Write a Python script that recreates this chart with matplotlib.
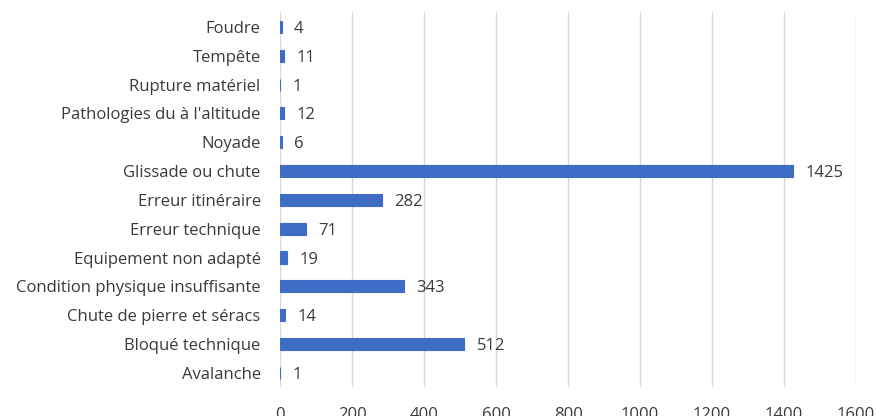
import matplotlib
matplotlib.use('Agg')
import matplotlib.pyplot as plt

# données (de bas en haut)
categories = ['Avalanche', 'Bloqué technique', 'Chute de pierre et séracs',
              'Condition physique insuffisante', 'Equipement non adapté',
              'Erreur technique', 'Erreur itinéraire', 'Glissade ou chute',
              'Noyade', "Pathologies du à l'altitude", 'Rupture matériel',
              'Tempête', 'Foudre']
valeurs = [1, 512, 14, 343, 19, 71, 282, 1425, 6, 12, 1, 11, 4]
xticks = [0, 200, 400, 600, 800, 1000, 1200, 1400, 1600]

plt.rcParams['font.family'] = ['Open Sans', 'DejaVu Sans']
texte = '#3A3A3A'

fig = plt.figure(figsize=(8.78, 4.16), dpi=100)
ax = fig.add_axes([0.319, 0.069, 0.656, 0.901])

pos = list(range(len(categories)))
ax.barh(pos, valeurs, height=0.42, color='#3F6CC4', edgecolor='#3F6CC4',
        linewidth=0.8, zorder=3)
for p, v in zip(pos, valeurs):
    ax.text(v + 34, p, str(v), va='center_baseline', ha='left', fontsize=12,
            color=texte)

ax.set_xlim(0, 1600)
ax.set_ylim(-0.5, len(categories) - 0.5)
ax.set_xticks(xticks)
ax.set_yticks(pos)
ax.set_yticklabels(categories, va='center_baseline')
ax.tick_params(axis='both', length=0, labelsize=12, labelcolor=texte)
ax.tick_params(axis='x', pad=14)
ax.tick_params(axis='y', pad=14)
ax.grid(axis='x', color='#D9D9D9', linewidth=1, zorder=0)
for s in ax.spines.values():
    s.set_visible(False)

fig.savefig('out.png', dpi=100)
